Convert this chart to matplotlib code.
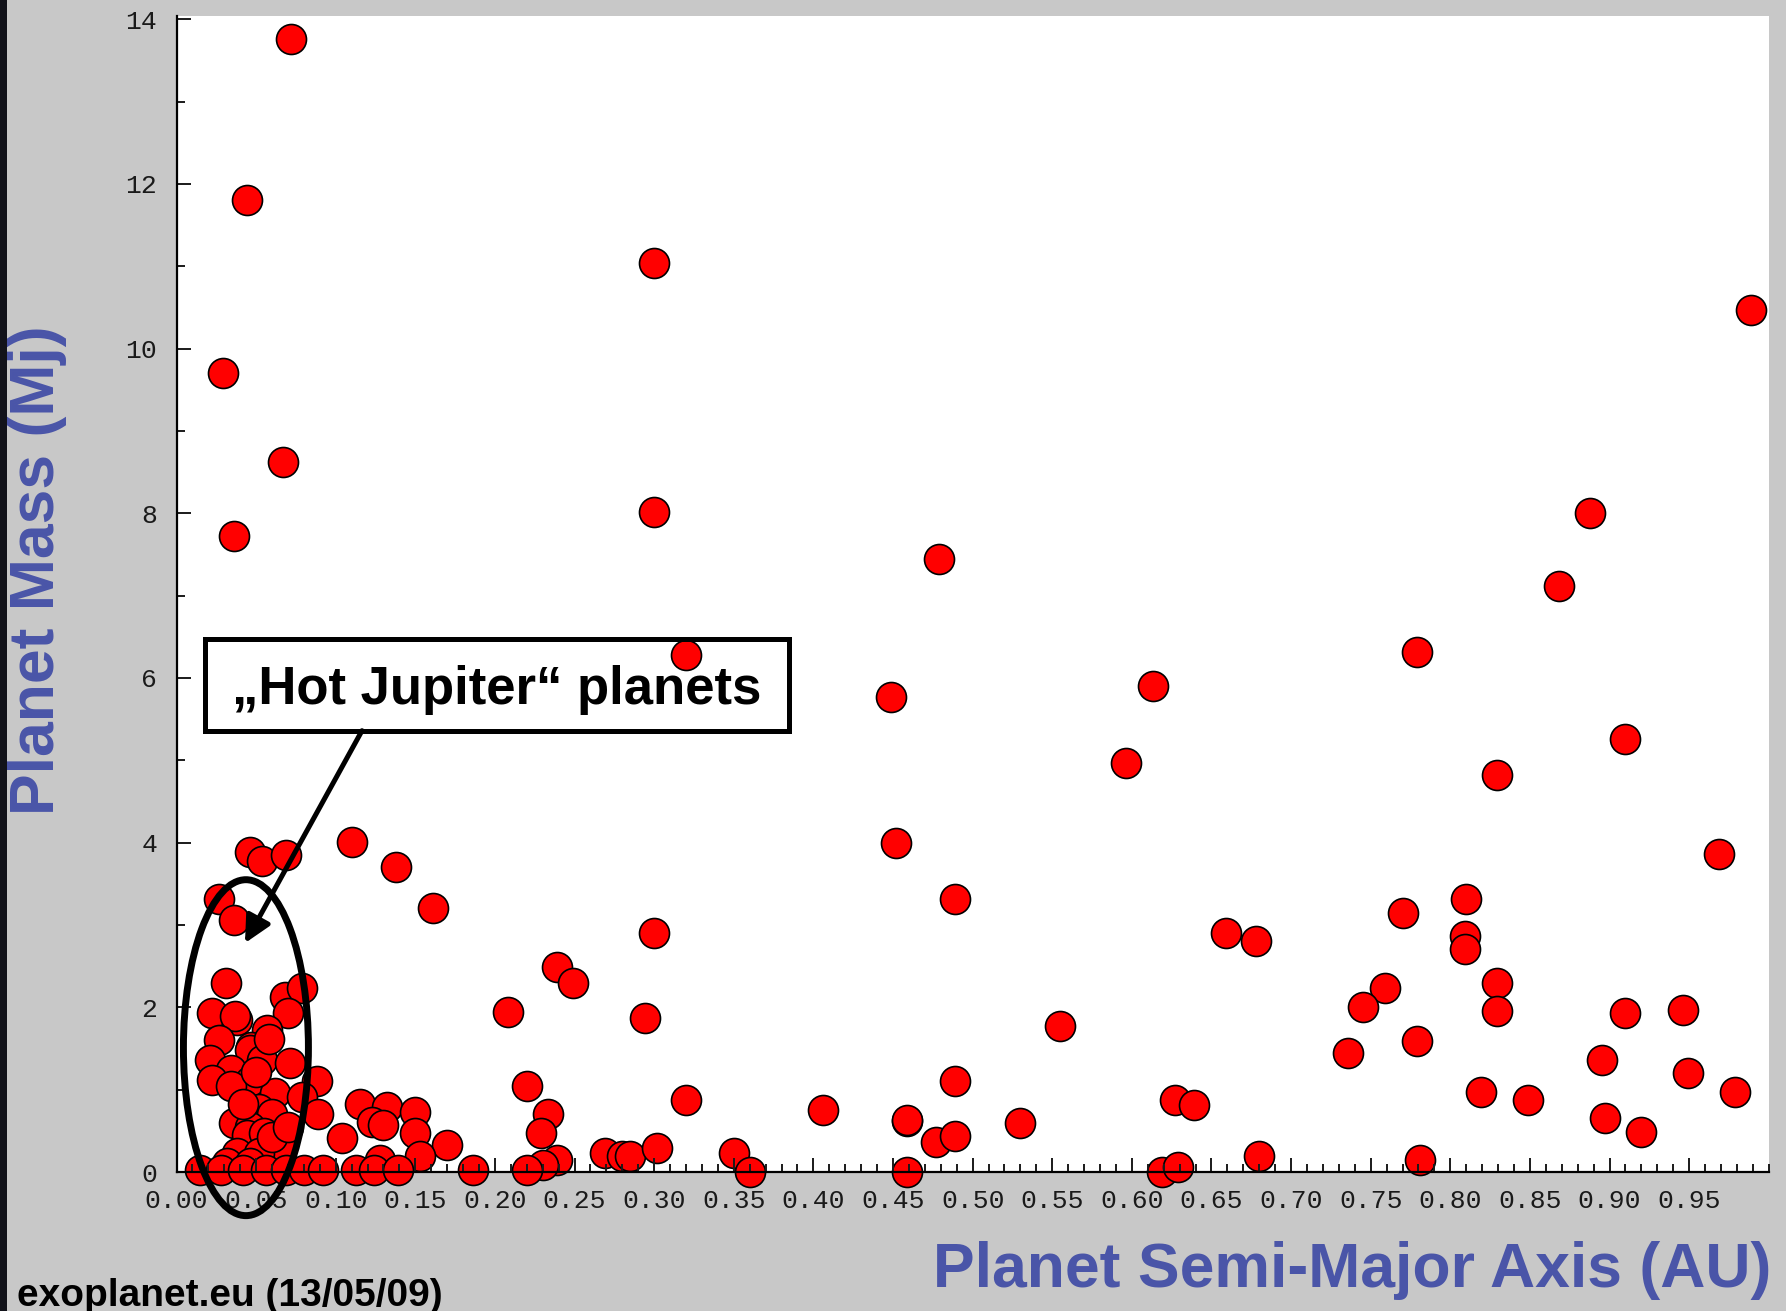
import matplotlib.pyplot as plt
from matplotlib.patches import Ellipse, Rectangle
from matplotlib.ticker import MultipleLocator
import numpy as np

# semi-major axis (AU) and mass (Mj) of the catalogued planets
semi_major_axis = [
    0.072, 0.044, 0.029, 0.067, 0.036, 0.300, 0.300, 0.320, 0.300, 0.989,
    0.479, 0.449, 0.452, 0.489, 0.613, 0.596, 0.659, 0.678, 0.555, 0.489,
    0.459, 0.477, 0.489, 0.530, 0.627, 0.639, 0.680, 0.459, 0.619, 0.629,
    0.888, 0.868, 0.779, 0.910, 0.829, 0.969, 0.810, 0.770, 0.809, 0.809,
    0.829, 0.829, 0.759, 0.745, 0.736, 0.779, 0.910, 0.946, 0.895, 0.949,
    0.819, 0.849, 0.979, 0.897, 0.920, 0.781,
    0.239, 0.249, 0.208, 0.294, 0.220, 0.233, 0.229, 0.239, 0.230, 0.220,
    0.170, 0.186, 0.269, 0.280, 0.285, 0.302, 0.320, 0.350, 0.360, 0.406,
    0.459,
    0.046, 0.054, 0.069, 0.110, 0.138, 0.161, 0.027, 0.036, 0.031, 0.068,
    0.079, 0.070, 0.022, 0.038, 0.037, 0.057, 0.027, 0.047, 0.046, 0.021,
    0.034, 0.054, 0.071, 0.022, 0.046, 0.034, 0.062, 0.088, 0.079, 0.089,
    0.052, 0.060, 0.036, 0.046, 0.044, 0.055, 0.038, 0.065, 0.052, 0.032,
    0.046, 0.115, 0.132, 0.123, 0.130, 0.150, 0.150, 0.104, 0.153, 0.128,
    0.058, 0.050, 0.042, 0.060, 0.070,
    0.015, 0.028, 0.042, 0.056, 0.069, 0.080, 0.092, 0.113, 0.124, 0.139,
]
planet_mass = [
    13.76, 11.81, 9.70, 8.62, 7.72, 11.04, 8.01, 6.28, 2.90, 10.47,
    7.44, 5.77, 3.99, 3.31, 5.90, 4.97, 2.90, 2.80, 1.77, 1.11,
    0.62, 0.37, 0.44, 0.60, 0.88, 0.81, 0.19, 0.00, 0.00, 0.06,
    8.00, 7.12, 6.32, 5.26, 4.82, 3.86, 3.31, 3.15, 2.87, 2.71,
    2.29, 1.96, 2.23, 2.00, 1.45, 1.59, 1.93, 1.97, 1.36, 1.20,
    0.97, 0.88, 0.97, 0.65, 0.49, 0.14,
    2.49, 2.29, 1.94, 1.87, 1.04, 0.71, 0.47, 0.15, 0.09, 0.02,
    0.33, 0.02, 0.23, 0.19, 0.19, 0.29, 0.88, 0.23, 0.00, 0.75,
    0.63,
    3.89, 3.78, 3.85, 4.01, 3.70, 3.21, 3.32, 3.06, 2.30, 2.13,
    2.23, 1.93, 1.93, 1.85, 1.89, 1.72, 1.60, 1.52, 1.48, 1.36,
    1.24, 1.36, 1.32, 1.12, 1.10, 1.04, 0.96, 1.10, 0.91, 0.71,
    0.77, 0.71, 0.59, 0.55, 0.45, 0.47, 0.23, 0.31, 0.23, 0.11,
    0.11, 0.83, 0.79, 0.61, 0.57, 0.73, 0.47, 0.41, 0.19, 0.15,
    1.62, 1.22, 0.82, 0.42, 0.55,
    0.02, 0.02, 0.02, 0.02, 0.02, 0.02, 0.02, 0.02, 0.02, 0.02,
]

x_tick_values = [round(0.05 * i, 2) for i in range(20)]
x_tick_labels = [f"{v:.2f}" for v in x_tick_values]
y_tick_values = [0, 2, 4, 6, 8, 10, 12, 14]

W, H = 1786, 1311
bg = '#c8c8c8'
label_blue = '#4a55a8'

fig = plt.figure(figsize=(W / 100, H / 100), dpi=100, facecolor=bg)
ax = fig.add_axes([176.5 / W, 139 / H, 1592.3 / W, 1156 / H])
ax.set_facecolor('white')

ax.scatter(semi_major_axis, planet_mass, s=466, c='#ff0000',
           edgecolors='black', linewidths=1.2, clip_on=False, zorder=1)

ax.set_xlim(0, 1.0)
ax.set_ylim(0, 14.04)

for side in ['top', 'right']:
    ax.spines[side].set_visible(False)
for side in ['left', 'bottom']:
    ax.spines[side].set_linewidth(1.6)
    ax.spines[side].set_color('black')

ax.set_xticks(x_tick_values)
ax.set_xticklabels(x_tick_labels)
ax.xaxis.set_minor_locator(MultipleLocator(0.01))
ax.set_yticks(y_tick_values)
ax.yaxis.set_minor_locator(MultipleLocator(1))

ax.tick_params(which='major', direction='in', length=10, width=1.4,
               labelsize=19, colors='#1a1a1a')
ax.tick_params(which='minor', direction='in', length=6, width=1.4,
               colors='#1a1a1a')
ax.tick_params(axis='y', which='major', pad=14)
ax.tick_params(axis='x', which='major', pad=12)
for lab in ax.get_xticklabels() + ax.get_yticklabels():
    lab.set_family('Liberation Mono')

# axis titles and source note
fig.text(38 / W, 1 - 570 / H, 'Planet Mass (Mj)', rotation=90,
         ha='center', va='center', fontsize=45, fontweight='bold',
         color=label_blue, family='Liberation Sans')
fig.text(1771 / W, 24 / H, 'Planet Semi-Major Axis (AU)', ha='right',
         va='baseline', fontsize=45, fontweight='bold', color=label_blue,
         family='Liberation Sans')
fig.text(17 / W, 5 / H, 'exoplanet.eu (13/05/09)', ha='left', va='baseline',
         fontsize=28, fontweight='bold', color='black',
         family='Liberation Sans')

# dark strip on the left edge
fig.add_artist(Rectangle((0, 0), 7 / W, 1, transform=fig.transFigure,
                         facecolor='#12131a', edgecolor='none'))

# hot jupiter callout
ax.add_patch(Rectangle((0.0179, 5.36), 0.3668, 1.11, fill=False, lw=3.6,
                       edgecolor='black', clip_on=False, zorder=5))
ax.text(0.2013, 5.86, '\u201eHot Jupiter\u201c planets', ha='center',
        va='center', fontsize=38, fontweight='bold', color='black',
        family='Liberation Sans', zorder=6)
ax.annotate('', xy=(0.043, 2.78), xytext=(0.1165, 5.36),
            arrowprops=dict(arrowstyle='-|>', lw=3.6, color='black',
                            mutation_scale=40, shrinkA=0, shrinkB=0),
            zorder=6)
ax.add_patch(Ellipse((0.0436, 1.51), width=0.0785, height=4.08, fill=False,
                     lw=5, edgecolor='black', clip_on=False, zorder=5))

fig.savefig('out.png', dpi=100, facecolor=bg)
